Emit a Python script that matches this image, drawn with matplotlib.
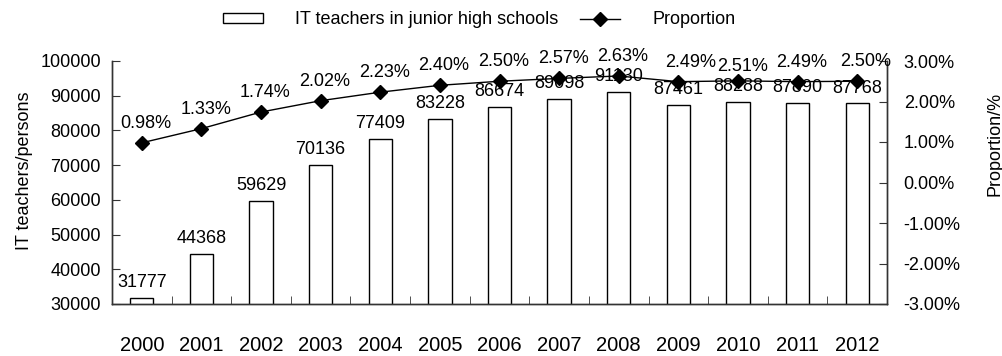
import matplotlib
matplotlib.use("Agg")
import matplotlib.pyplot as plt
from matplotlib.patches import Rectangle
from matplotlib.lines import Line2D
import numpy as np

plt.rcParams['font.family'] = ['Liberation Sans', 'DejaVu Sans']

years = ['2000', '2001', '2002', '2003', '2004', '2005', '2006',
         '2007', '2008', '2009', '2010', '2011', '2012']
teachers = [31777, 44368, 59629, 70136, 77409, 83228, 86674,
            89098, 91130, 87461, 88288, 87890, 87768]
proportion = [0.98, 1.33, 1.74, 2.02, 2.23, 2.40, 2.50,
              2.57, 2.63, 2.49, 2.51, 2.49, 2.50]

W, H = 1003, 356
fig = plt.figure(figsize=(W / 100, H / 100), dpi=100)
ax = fig.add_axes([112 / W, 1 - 304 / H, 775 / W, 243 / H])
ax2 = ax.twinx()

x = np.arange(len(years))
ax.bar(x, teachers, width=0.39, bottom=0, color='white', edgecolor='black',
       linewidth=1.0, zorder=2)
ax.set_xlim(-0.5, len(years) - 0.5)
ax.set_ylim(30000, 100000)
ax.set_yticks(np.arange(30000, 100001, 10000))

for xi, v in zip(x, teachers):
    ax.annotate(f'{v}', (xi, v), xytext=(0, 5), textcoords='offset points',
                ha='center', va='bottom', fontsize=13)

ax2.plot(x, proportion, color='black', lw=1.0, marker='D', markersize=7,
         zorder=3)
ax2.set_ylim(-3, 3)
ax2.set_yticks(np.arange(-3, 3.01, 1))
ax2.set_yticklabels([f'{t:.2f}%' for t in np.arange(-3, 3.01, 1)])

dx = [3, 3, 3, 3, 3, 3, 3, 3, 3, 9, 3, 3, 6]
dy = [8, 8, 8, 8, 8, 8, 8, 8, 8, 8, 4, 8, 8]
for xi, v, ox, oy in zip(x, proportion, dx, dy):
    ax2.annotate(f'{v:.2f}%', (xi, v), xytext=(ox, oy),
                 textcoords='offset points', ha='center', va='bottom',
                 fontsize=13)

# x ticks: labels at centers, tick marks at boundaries
ax.set_xticks(x)
ax.set_xticklabels(years, fontsize=14.5)
ax.set_xticks(np.arange(-0.5, len(years)), minor=True)
ax.tick_params(axis='x', which='major', length=0, pad=23)
ax.tick_params(axis='x', which='minor', length=6, direction='in',
               color='#333333')
ax.tick_params(axis='y', direction='in', length=6, labelsize=13, pad=8,
               color='#333333')
ax2.tick_params(axis='y', direction='in', length=6, labelsize=13, pad=12,
                color='#333333')

for a in (ax, ax2):
    a.spines['top'].set_visible(False)
    for s in ('left', 'right', 'bottom'):
        a.spines[s].set_color('#333333')
        a.spines[s].set_linewidth(1.0)

ax.set_ylabel('IT teachers/persons', fontsize=13)
ax.yaxis.set_label_coords(-0.102, 0.55)
ax2.set_ylabel('Proportion/%', fontsize=13)
ax2.yaxis.set_label_coords(1.128, 0.66)

h1 = Rectangle((0, 0), 1, 1, facecolor='white', edgecolor='black', lw=1.0)
h2 = Line2D([], [], color='black', lw=1.0, marker='D', markersize=7)
fig.legend([h1, h2], ['IT teachers in junior high schools', 'Proportion'],
           loc='center', bbox_to_anchor=(0.478, 0.944), ncol=2,
           frameon=False, fontsize=13, handlelength=2.2, handleheight=0.4,
           handletextpad=1.8, columnspacing=1.2)

fig.savefig('out.png', dpi=100)
